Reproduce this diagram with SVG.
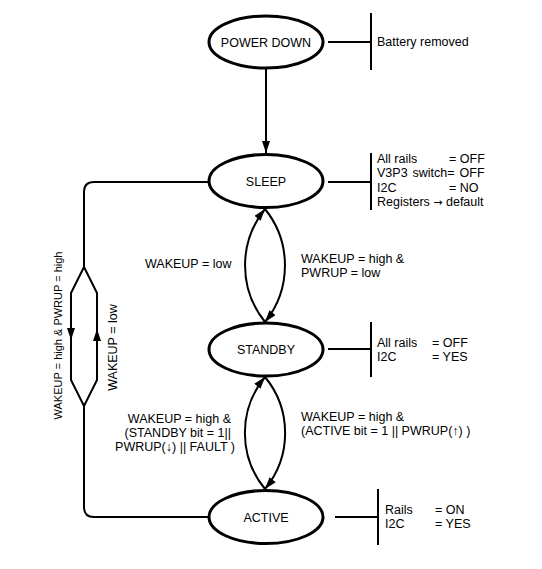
<svg xmlns="http://www.w3.org/2000/svg" width="542" height="569" viewBox="0 0 542 569">
<style>
text{font-family:"Liberation Sans",Arial,sans-serif;font-size:12.5px;fill:#000}
.n{text-anchor:middle}
.st{fill:#fff;stroke:#000;stroke-width:3}
.ln{fill:none;stroke:#000;stroke-width:2}
</style>
<defs>
<marker id="ah" viewBox="0 0 12 8" refX="12" refY="4" markerWidth="12" markerHeight="8" markerUnits="userSpaceOnUse" orient="auto">
<path d="M0,0 L12,4 L0,8 Z" fill="#000"/>
</marker>
</defs>
<g id="connectors">
<line class="ln" x1="266" y1="68" x2="266" y2="153" marker-end="url(#ah)"/>
<path class="ln" d="M265,322 A90,90 0 0 1 265,209" marker-end="url(#ah)"/>
<path class="ln" d="M265,209 A90,90 0 0 1 265,322" marker-end="url(#ah)"/>
<path class="ln" d="M265,489 A88,88 0 0 1 265,377" marker-end="url(#ah)"/>
<path class="ln" d="M265,377 A88,88 0 0 1 265,489" marker-end="url(#ah)"/>
<path class="ln" d="M209,182 H94 Q84,182 84,192 V267 L71,293 V380 L84,406 L97,380 V293 L84,267 M84,406 V507 Q84,517 94,517 H209"/>
<path d="M71,340 L67,328 L75,328 Z" fill="#000"/>
<path d="M97,329 L93,341 L101,341 Z" fill="#000"/>
<text transform="translate(62,335.5) rotate(-90)" class="n" style="font-size:11px">WAKEUP = high &amp; PWRUP = high</text>
<text transform="translate(117,347.5) rotate(-90)" class="n">WAKEUP = low</text>
<text x="145" y="268">WAKEUP = low</text>
<text x="301" y="262.5">WAKEUP = high &amp;</text>
<text x="301" y="276.5">PWRUP = low</text>
<text x="231" y="422.5" text-anchor="end">WAKEUP = high &amp;</text>
<text x="231" y="436.5" text-anchor="end">(STANDBY bit = 1||</text>
<text x="235" y="450.5" text-anchor="end">PWRUP(↓) || FAULT )</text>
<text x="301" y="421">WAKEUP = high &amp;</text>
<text x="301" y="435">(ACTIVE bit = 1 || PWRUP(↑) )</text>
</g>
<g id="powerdown">
<ellipse class="st" cx="266" cy="42" rx="57" ry="26"/>
<text class="n" x="266" y="46.5">POWER DOWN</text>
<line class="ln" x1="328" y1="42" x2="371" y2="42"/>
<line class="ln" x1="371" y1="13" x2="371" y2="70"/>
<text x="377" y="46">Battery removed</text>
</g>
<g id="sleep">
<ellipse class="st" cx="266" cy="181" rx="57" ry="26.5"/>
<text class="n" x="266" y="185.5">SLEEP</text>
<line class="ln" x1="328" y1="182" x2="371" y2="182"/>
<line class="ln" x1="371" y1="153" x2="371" y2="210"/>
<text x="377" y="163">All rails</text><text x="449" y="163">= OFF</text>
<text x="377" y="177" style="word-spacing:1.5px">V3P3 switch= OFF</text>
<text x="377" y="191.5">I2C</text><text x="449" y="191.5">= NO</text>
<text x="377" y="205.5">Registers <tspan style="font-family:'DejaVu Sans',sans-serif;font-size:11px">→</tspan> default</text>
</g>
<g id="standby">
<ellipse class="st" cx="266" cy="349.5" rx="57" ry="26.5"/>
<text class="n" x="266" y="354">STANDBY</text>
<line class="ln" x1="328" y1="349" x2="371" y2="349"/>
<line class="ln" x1="371" y1="322" x2="371" y2="377"/>
<text x="377" y="346.5">All rails</text><text x="432" y="346.5">= OFF</text>
<text x="377" y="360.5">I2C</text><text x="432" y="360.5">= YES</text>
</g>
<g id="active">
<ellipse class="st" cx="266" cy="517" rx="57" ry="26.5"/>
<text class="n" x="266" y="521.5">ACTIVE</text>
<line class="ln" x1="335" y1="517" x2="378" y2="517"/>
<line class="ln" x1="378" y1="489" x2="378" y2="545"/>
<text x="385" y="514">Rails</text><text x="435" y="514">= ON</text>
<text x="385" y="528">I2C</text><text x="435" y="528">= YES</text>
</g>
</svg>
